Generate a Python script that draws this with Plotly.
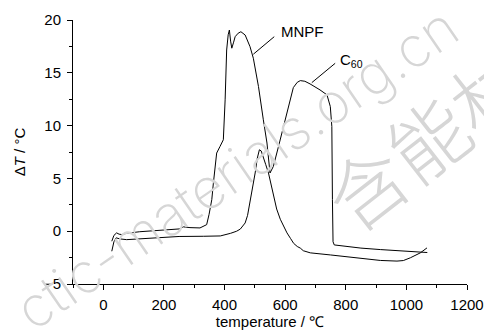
import plotly.graph_objects as go

# Curve with the big double peak (MNPF region) and the C60 plateau
temp_b = [28, 35, 44, 52, 61, 77, 120, 180, 253, 264, 275, 286, 319, 341, 349, 358, 363, 370, 374, 385,
          396, 402, 407, 412, 416, 420, 424, 430, 435, 445, 454, 468, 484, 495, 512, 528, 540, 550, 561,
          578, 594, 611, 627, 640, 650, 665, 682, 715, 738, 749, 754, 756, 758, 762, 800, 850, 914, 980,
          1030, 1069]
dt_b = [-0.95, -0.4, -0.16, -0.28, -0.32, -0.2, -0.05, 0.08, 0.22, 0.41, 0.35, 0.34, 0.31, 0.62, 1.6, 3.0,
        4.5, 6.6, 7.4, 8.02, 8.66, 12.44, 17.16, 18.6, 19.05, 18.0, 17.33, 17.9, 18.42, 18.75, 18.89, 18.58,
        17.48, 16.38, 13.70, 10.55, 8.35, 5.51, 6.13, 8.02, 9.91, 11.80, 13.6, 14.1, 14.26, 14.2, 13.95,
        13.38, 12.91, 11.81, 9.91, 3.0, -1.0, -1.3, -1.45, -1.6, -1.74, -1.85, -1.95, -2.02]

# Curve with the single peak near 515 C
temp_a = [28, 35, 42, 48, 55, 77, 150, 250, 330, 386, 420, 440, 452, 460, 468, 476, 484, 492, 501, 508,
          515, 521, 528, 536, 545, 553, 561, 572, 584, 595, 606, 618, 628, 640, 650, 660, 683, 750, 804,
          860, 914, 969, 990, 1013, 1030, 1046, 1068]
dt_a = [-1.9, -1.0, -0.63, -0.7, -0.73, -0.8, -0.65, -0.5, -0.48, -0.45, -0.2, 0.0, 0.2, 0.45, 0.78, 1.5,
        2.67, 4.0, 5.51, 6.9, 7.71, 7.6, 7.08, 6.3, 5.51, 4.4, 3.3, 2.1, 1.13, 0.4, -0.16, -0.7, -1.15,
        -1.45, -1.6, -1.85, -2.05, -2.25, -2.42, -2.6, -2.77, -2.83, -2.78, -2.52, -2.3, -2.05, -1.58]

x_ticks = [0, 200, 400, 600, 800, 1000, 1200]
y_ticks = [-5, 0, 5, 10, 15, 20]

FONT = "Liberation Sans, Arial"

fig = go.Figure()
fig.add_trace(go.Scatter(x=temp_b, y=dt_b, mode="lines", line=dict(color="black", width=1),
                         showlegend=False, name="MNPF"))
fig.add_trace(go.Scatter(x=temp_a, y=dt_a, mode="lines", line=dict(color="black", width=1),
                         showlegend=False, name="C60"))

# watermark
fig.add_annotation(x=441, y=6.0, xref="x", yref="y", text="ctic-materials.org.cn", showarrow=False,
                   textangle=-34.5, font=dict(family="Inter, Lato, Liberation Sans", size=56, color="#d6d6d6",
                                              weight=200))
fig.add_annotation(x=1166, y=11.2, xref="x", yref="y", text="含能材料", showarrow=False,
                   textangle=-38, font=dict(family="Noto Sans CJK SC", size=78, color="#d6d6d6", weight=200))

# labels with leader lines
fig.add_shape(type="line", x0=564, y0=18.42, x1=495, y1=16.76, line=dict(color="black", width=1))
fig.add_annotation(x=658, y=18.9, text="MNPF", showarrow=False, font=dict(family=FONT, size=15, color="black"))
fig.add_shape(type="line", x0=765, y0=15.9, x1=688, y1=14.07, line=dict(color="black", width=1))
fig.add_annotation(x=818, y=16.2, text="C<sub>60</sub>", showarrow=False,
                   font=dict(family=FONT, size=15, color="black"))

fig.update_layout(
    width=484, height=336, autosize=False,
    margin=dict(l=73, r=17, t=20, b=52),
    paper_bgcolor="white", plot_bgcolor="white",
    font=dict(family=FONT, size=15, color="black"),
)
fig.update_xaxes(range=[-100, 1200], tickvals=x_ticks, ticks="outside", ticklen=5, tickwidth=1,
                 tickcolor="black", showline=True, linecolor="black", linewidth=1, showgrid=False,
                 zeroline=False, minor=dict(dtick=100, tick0=0, ticks="outside", ticklen=3, tickcolor="black"),
                 title=dict(text="temperature / ℃", standoff=3, font=dict(size=15)),
                 ticklabelstandoff=2, automargin=False, ticklabeloverflow="allow")
fig.update_yaxes(range=[-5, 20], tickvals=y_ticks, ticks="outside", ticklen=5, tickwidth=1,
                 tickcolor="black", showline=True, linecolor="black", linewidth=1, showgrid=False,
                 zeroline=False, minor=dict(dtick=2.5, tick0=0, ticks="outside", ticklen=3, tickcolor="black"),
                 title=dict(text="Δ<i>T</i> / °C", standoff=14, font=dict(size=15)),
                 ticklabelstandoff=3, automargin=False, ticklabeloverflow="allow")

fig.write_html("out.html", config={"displayModeBar": False},
               post_script="document.body.style.margin='0';document.body.style.overflow='hidden';")
